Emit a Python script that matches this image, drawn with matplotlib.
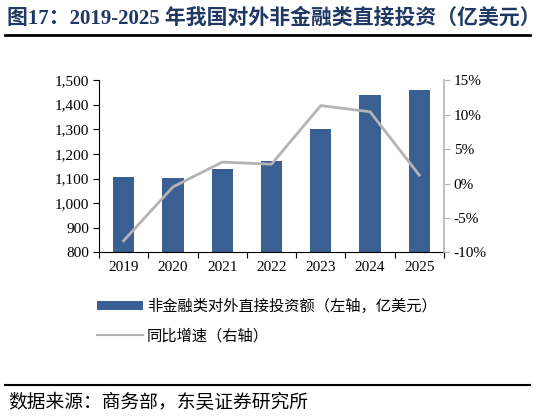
import matplotlib.pyplot as plt
import numpy as np
from matplotlib.lines import Line2D
from matplotlib.patches import Patch
from matplotlib.ticker import FuncFormatter

years = ["2019", "2020", "2021", "2022", "2023", "2024", "2025"]
fdi_amount = [1108, 1102, 1137, 1170, 1302, 1440, 1459]
yoy_growth = [-8.3, -0.5, 3.1, 2.8, 11.3, 10.4, 1.2]

title_text = "图17：2019-2025 年我国对外非金融类直接投资（亿美元）"
bar_label = "非金融类对外直接投资额（左轴，亿美元）"
line_label = "同比增速（右轴）"
source_text = "数据来源：商务部，东吴证券研究所"

BAR_COLOR = "#3A5F92"
LINE_COLOR = "#B4B4B4"
TITLE_COLOR = "#1F3864"
FONT = ["Liberation Serif", "Noto Sans CJK SC", "DejaVu Sans"]

plt.rcParams["font.family"] = FONT

fig = plt.figure(figsize=(5.4, 4.18), dpi=100)
ax = fig.add_axes([0.1833, 0.396, 0.6389, 0.4125])
ax2 = ax.twinx()

x = np.arange(len(years))
ax.bar(x, fdi_amount, width=0.43, color=BAR_COLOR, zorder=2)
ax2.plot(x, yoy_growth, color=LINE_COLOR, lw=2, zorder=3)
ax.set_zorder(1)
ax2.set_zorder(2)
ax.patch.set_visible(False)

ax.set_xlim(-0.5, len(years) - 0.5)
ax.set_ylim(800, 1500)
ax.set_yticks(range(800, 1501, 100))
ax.yaxis.set_major_formatter(FuncFormatter(lambda v, p: f"{int(v):,}"))
ax2.set_ylim(-10, 15)
ax2.set_yticks(range(-10, 16, 5))
ax2.yaxis.set_major_formatter(FuncFormatter(lambda v, p: f"{int(v)}%"))

ax.set_xticks(x)
ax.set_xticklabels(years)
ax.set_xticks(np.arange(-0.5, len(years), 1), minor=True)
ax.tick_params(axis="x", which="major", length=0, pad=6, labelsize=11)
ax.tick_params(axis="x", which="minor", length=4, direction="out", width=0.8)
ax.tick_params(axis="y", length=4, width=0.8, labelsize=11, pad=3)
ax2.tick_params(axis="y", length=4, width=0.8, color=LINE_COLOR, labelsize=11, pad=3)

for s in ["top", "right"]:
    ax.spines[s].set_visible(False)
ax2.spines["top"].set_visible(False)
ax2.spines["left"].set_visible(False)
ax2.spines["bottom"].set_visible(False)
ax2.spines["right"].set_color(LINE_COLOR)
ax2.spines["right"].set_linewidth(1.2)
ax.spines["left"].set_linewidth(0.8)
ax.spines["bottom"].set_linewidth(0.8)

# title and rules
fig.text(0.013, 0.957, title_text, fontsize=15, fontweight="bold",
         color=TITLE_COLOR, va="center", ha="left")
fig.add_artist(Line2D([0.009, 0.982], [0.917, 0.917], color="black", lw=2))
fig.add_artist(Line2D([0.009, 0.982], [0.079, 0.079], color="black", lw=1.5))
fig.text(0.015, 0.036, source_text, fontsize=13.5, va="center", ha="left")

handles = [Patch(facecolor=BAR_COLOR, edgecolor="none"),
           Line2D([0], [0], color=LINE_COLOR, lw=1.5)]
fig.legend(handles, [bar_label, line_label], loc="upper left",
           bbox_to_anchor=(0.155, 0.318), frameon=False, fontsize=11,
           handlelength=3.0, handleheight=0.5, handletextpad=0.25,
           labelspacing=0.95)

fig.savefig("out.png", dpi=100)
